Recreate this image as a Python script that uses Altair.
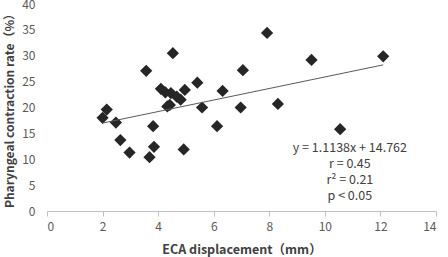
import altair as alt
import pandas as pd

eca = [2.0, 2.15, 2.48, 2.64, 2.97, 3.57, 3.69, 3.82, 3.85, 4.10, 4.26, 4.33, 4.42, 4.46, 4.53,
       4.67, 4.81, 4.92, 4.96, 5.41, 5.58, 6.12, 6.32, 6.97, 7.05, 7.92, 8.31, 9.52, 10.55, 12.1]
pcr = [18.0, 19.6, 17.1, 13.7, 11.3, 27.1, 10.4, 16.4, 12.4, 23.6, 22.9, 20.2, 20.5, 22.8, 30.5,
       22.1, 21.5, 11.9, 23.4, 24.8, 20.0, 16.4, 23.2, 20.0, 27.2, 34.4, 20.7, 29.2, 15.8, 29.9]
slope, intercept = 1.1138, 14.762
stats_lines = ["y = 1.1138x + 14.762", "r = 0.45", "r² = 0.21", "p < 0.05"]
x_ticks = [0, 2, 4, 6, 8, 10, 12, 14]
y_ticks = [0, 5, 10, 15, 20, 25, 30, 35, 40]

FONT = "Noto Sans CJK JP"
df = pd.DataFrame({"x": eca, "y": pcr})
xmin, xmax = min(eca), max(eca)
fit = pd.DataFrame({"x": [xmin, xmax], "y": [slope * xmin + intercept, slope * xmax + intercept]})
ann = pd.DataFrame({"x": [10.9], "y": [12.1], "t": ["\n".join(stats_lines)]})

xs = alt.Scale(domain=[0, 14], nice=False)
ys = alt.Scale(domain=[0, 40], nice=False)

xax = alt.Axis(values=x_ticks, title="ECA displacement（mm）", grid=False, domainColor="#bfbfbf",
               tickColor="#bfbfbf", tickSize=5, labelPadding=5, labelFontSize=12, labelColor="#595959",
               labelOverlap=False, titleFontSize=12.5, titleFontWeight="bold", titleColor="#404040",
               titlePadding=11, labelFont=FONT, titleFont=FONT)
yax = alt.Axis(values=y_ticks, title="Pharyngeal contraction rate（%）", grid=False, domain=False, ticks=False,
               labelPadding=12, labelFontSize=12, labelColor="#595959", labelOverlap=False,
               titleFontSize=12, titleFontWeight="bold", titleColor="#404040", titlePadding=5,
               labelFont=FONT, titleFont=FONT)

X = alt.X("x:Q", scale=xs, axis=xax)
Y = alt.Y("y:Q", scale=ys, axis=yax)

pts = alt.Chart(df).mark_point(shape="diamond", filled=True, size=150, color="#262626", opacity=1).encode(x=X, y=Y)
line = alt.Chart(fit).mark_line(color="#595959", strokeWidth=1).encode(x=X, y=Y)
txt = alt.Chart(ann).mark_text(lineBreak="\n", lineHeight=16, baseline="middle", align="center",
                               font=FONT, fontSize=12.5, color="#404040").encode(x=X, y=Y, text="t:N")

chart = alt.layer(pts, line, txt).properties(
    width=389, height=207,
    autosize=alt.AutoSizeParams(type="none"),
    padding={"left": 47, "top": 4, "right": 12, "bottom": 46},
).configure_view(stroke=None)

chart.save("out.html", embed_options={"renderer": "svg", "actions": False})
